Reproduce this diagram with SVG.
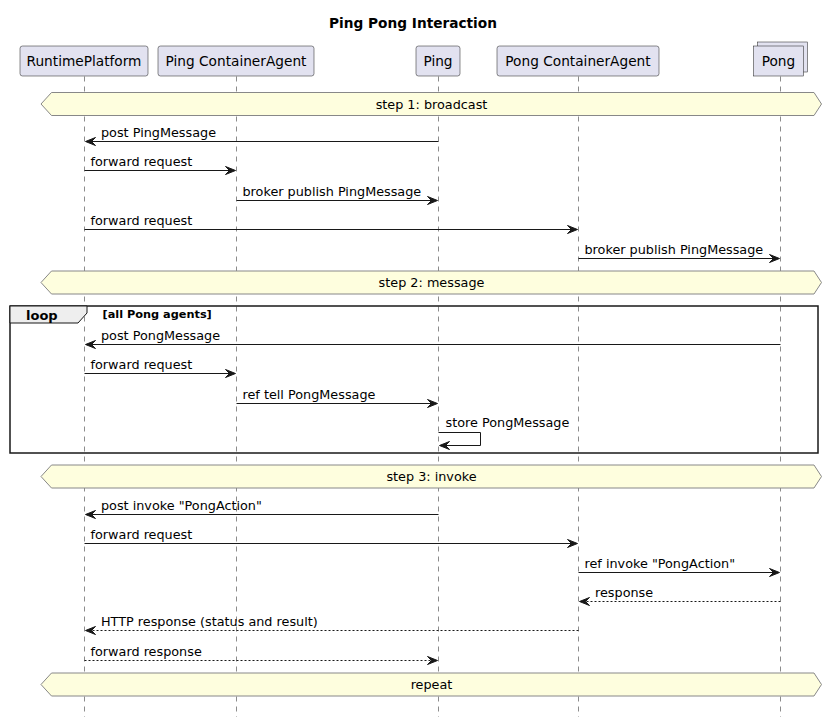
<svg xmlns="http://www.w3.org/2000/svg" width="822" height="717" viewBox="0 0 822 717">
<style>
text{font-family:"DejaVu Sans","Liberation Sans",sans-serif;fill:#000}
.title{font-size:13.7px;font-weight:bold}
.pt{font-size:13.7px}
.msg{font-size:12.8px}
.box{fill:#E2E2F0;stroke:#181818;stroke-width:0.5}
.life{stroke:#181818;stroke-width:0.5;stroke-dasharray:5,5;fill:none}
.div{fill:#FEFEDE;stroke:#888888;stroke-width:1}
.ln{stroke:#181818;stroke-width:1;fill:none}
.dash{stroke:#181818;stroke-width:1;fill:none;stroke-dasharray:2,2}
.ah{fill:#181818;stroke:#181818;stroke-width:1}
</style>
<defs>
<polygon id="ar" points="0,0 -10,-4 -6,0 -10,4" class="ah"/>
<polygon id="al" points="0,0 10,-4 6,0 10,4" class="ah"/>
</defs>
<rect width="822" height="717" fill="#FFFFFF"/>
<text class="title" x="413" y="27.5" text-anchor="middle">Ping Pong Interaction</text>

<g id="lifelines">
<line class="life" x1="84.5" y1="76.5" x2="84.5" y2="717"/>
<line class="life" x1="236.5" y1="76.5" x2="236.5" y2="717"/>
<line class="life" x1="438.5" y1="76.5" x2="438.5" y2="717"/>
<line class="life" x1="578.5" y1="76.5" x2="578.5" y2="717"/>
<line class="life" x1="780.5" y1="76.5" x2="780.5" y2="717"/>
</g>

<g id="RuntimePlatform"><rect class="box" x="20" y="46" width="128" height="30" rx="2.5"/><text class="pt" x="84" y="66" text-anchor="middle">RuntimePlatform</text></g>
<g id="PingContainerAgent"><rect class="box" x="158" y="46" width="156" height="30" rx="2.5"/><text class="pt" x="236" y="66" text-anchor="middle">Ping ContainerAgent</text></g>
<g id="Ping"><rect class="box" x="416" y="46" width="44" height="30" rx="2.5"/><text class="pt" x="438" y="66" text-anchor="middle">Ping</text></g>
<g id="PongContainerAgent"><rect class="box" x="497" y="46" width="162" height="30" rx="2.5"/><text class="pt" x="578" y="66" text-anchor="middle">Pong ContainerAgent</text></g>
<g id="Pong"><rect class="box" x="757.5" y="42" width="50" height="30"/><rect class="box" x="753.5" y="46" width="50" height="30"/><text class="pt" x="778.5" y="66" text-anchor="middle">Pong</text></g>

<g id="dividers">
<polygon class="div" points="41,104 51.5,92.5 814,92.5 821.5,104 814,115.5 51.5,115.5"/>
<text class="msg" x="431.5" y="108.5" text-anchor="middle">step 1: broadcast</text>
<polygon class="div" points="41,282.5 51.5,271 814,271 821.5,282.5 814,294 51.5,294"/>
<text class="msg" x="431.5" y="287" text-anchor="middle">step 2: message</text>
<polygon class="div" points="41,476.5 51.5,465 814,465 821.5,476.5 814,488 51.5,488"/>
<text class="msg" x="431.5" y="481" text-anchor="middle">step 3: invoke</text>
<polygon class="div" points="41,684.5 51.5,673 814,673 821.5,684.5 814,696 51.5,696"/>
<text class="msg" x="431.5" y="689" text-anchor="middle">repeat</text>
</g>

<g id="loop">
<rect x="10" y="306" width="808" height="147" fill="none" stroke="#181818" stroke-width="1.5"/>
<polygon points="10,306 87,306 87,313 78,323 10,323" fill="#EEEEEE" stroke="#181818" stroke-width="1"/>
<text x="26" y="320" style="font-size:13px;font-weight:bold">loop</text>
<text x="102.5" y="318" style="font-size:11.3px;font-weight:bold">[all Pong agents]</text>
</g>

<g id="connectors">
<line class="ln" x1="438.5" y1="141.5" x2="86" y2="141.5"/><use href="#al" x="85.5" y="141.5"/>
<text class="msg" x="101" y="137">post PingMessage</text>

<line class="ln" x1="84.5" y1="170.5" x2="234" y2="170.5"/><use href="#ar" x="235.5" y="170.5"/>
<text class="msg" x="90.5" y="166">forward request</text>

<line class="ln" x1="236.5" y1="200.5" x2="436" y2="200.5"/><use href="#ar" x="437.5" y="200.5"/>
<text class="msg" x="242.5" y="196">broker publish PingMessage</text>

<line class="ln" x1="84.5" y1="229.5" x2="576" y2="229.5"/><use href="#ar" x="577.5" y="229.5"/>
<text class="msg" x="90.5" y="225">forward request</text>

<line class="ln" x1="578.5" y1="258.5" x2="778" y2="258.5"/><use href="#ar" x="779.5" y="258.5"/>
<text class="msg" x="584.5" y="254">broker publish PingMessage</text>

<line class="ln" x1="780.5" y1="344.5" x2="86" y2="344.5"/><use href="#al" x="85.5" y="344.5"/>
<text class="msg" x="101" y="340">post PongMessage</text>

<line class="ln" x1="84.5" y1="373.5" x2="234" y2="373.5"/><use href="#ar" x="235.5" y="373.5"/>
<text class="msg" x="90.5" y="369">forward request</text>

<line class="ln" x1="236.5" y1="403.5" x2="436" y2="403.5"/><use href="#ar" x="437.5" y="403.5"/>
<text class="msg" x="242.5" y="399">ref tell PongMessage</text>

<polyline class="ln" points="438.5,432.5 480.5,432.5 480.5,445.5 440,445.5"/><use href="#al" x="439.5" y="445.5"/>
<text class="msg" x="445.5" y="427">store PongMessage</text>

<line class="ln" x1="438.5" y1="514.5" x2="86" y2="514.5"/><use href="#al" x="85.5" y="514.5"/>
<text class="msg" x="101" y="510">post invoke "PongAction"</text>

<line class="ln" x1="84.5" y1="543.5" x2="576" y2="543.5"/><use href="#ar" x="577.5" y="543.5"/>
<text class="msg" x="90.5" y="539">forward request</text>

<line class="ln" x1="578.5" y1="572.5" x2="778" y2="572.5"/><use href="#ar" x="779.5" y="572.5"/>
<text class="msg" x="584.5" y="568">ref invoke "PongAction"</text>

<line class="dash" x1="780.5" y1="601.5" x2="580" y2="601.5"/><use href="#al" x="579.5" y="601.5"/>
<text class="msg" x="595" y="597">response</text>

<line class="dash" x1="578.5" y1="630.5" x2="86" y2="630.5"/><use href="#al" x="85.5" y="630.5"/>
<text class="msg" x="101" y="626">HTTP response (status and result)</text>

<line class="dash" x1="84.5" y1="660.5" x2="436" y2="660.5"/><use href="#ar" x="437.5" y="660.5"/>
<text class="msg" x="90.5" y="656">forward response</text>
</g>
</svg>
